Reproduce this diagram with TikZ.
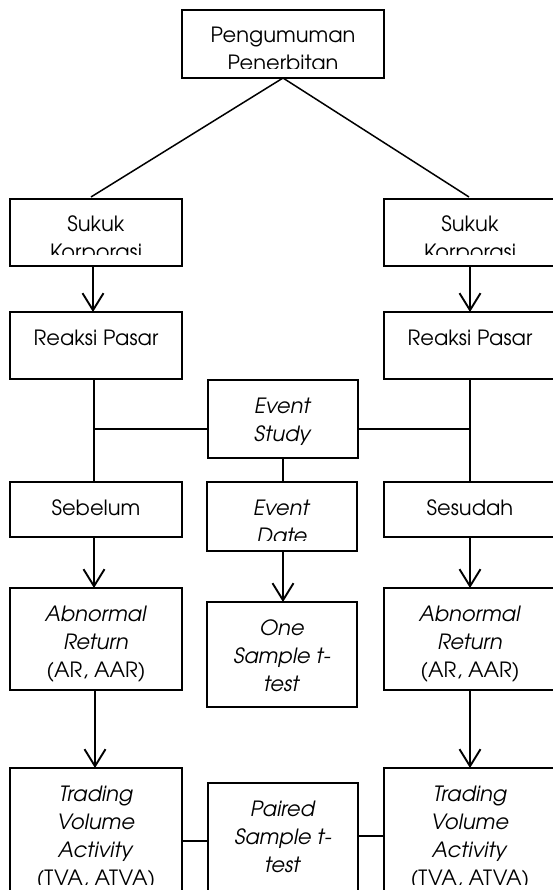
\documentclass[tikz,border=0pt]{standalone}
\usepackage{fontspec}
\setmainfont{TeX Gyre Adventor}
\usetikzlibrary{arrows.meta,calc}
\newcommand\mylines[2]{%
  \clip ([yshift=#1pt]path picture bounding box.south west) rectangle (path picture bounding box.north east);
  \foreach \t [count=\i] in {#2} {
    \node[anchor=base, inner sep=0pt] at ([yshift={-33pt-28pt*(\i-1)}]path picture bounding box.north) {\t};
  }%
}
\tikzset{
  box/.style={draw, line width=1.5pt, inner sep=0pt, outer sep=0pt, anchor=north west},
  wide/.style={box, minimum width=172pt},
  mid/.style={box, minimum width=150pt},
  conn/.style={line width=1.5pt},
  arr/.style={line width=1.9pt, -{Straight Barb[length=17pt,width=21pt,line width=1.9pt]}}
}
\begin{document}
\begin{tikzpicture}[x=1pt,y=-1pt,font=\fontsize{21pt}{28pt}\selectfont]
\clip (0,0) rectangle (553,890);
\fill[white] (0,0) rectangle (553,890);
% boxes
\node[box, minimum width=202pt, minimum height=68pt, path picture={\mylines{9.5}{Pengumuman,Penerbitan}}] (top) at (182,10) {};
\node[wide, minimum height=67pt, path picture={\mylines{11}{Sukuk,Korporasi}}] (sukL) at (10,199) {};
\node[wide, minimum height=67pt, path picture={\mylines{11}{Sukuk,Korporasi}}] (sukR) at (384,199) {};
\node[wide, minimum height=67pt, path picture={\mylines{0}{Reaksi Pasar}}] (reaL) at (10,312) {};
\node[wide, minimum height=67pt, path picture={\mylines{0}{Reaksi Pasar}}] (reaR) at (384,312) {};
\node[mid, minimum height=78pt, path picture={\mylines{0}{\textit{Event},\textit{Study}}}] (evS) at (208,380) {};
\node[wide, minimum height=55pt, path picture={\mylines{0}{Sebelum}}] (sebL) at (10,482) {};
\node[wide, minimum height=55pt, path picture={\mylines{0}{Sesudah}}] (sesR) at (384,482) {};
\node[mid, minimum height=69pt, path picture={\mylines{11}{\textit{Event},\textit{Date}}}] (evD) at (207,482) {};
\node[wide, minimum height=102pt, path picture={\mylines{0}{\textit{Abnormal},\textit{Return},{(AR, AAR)}}}] (abL) at (10,588) {};
\node[wide, minimum height=102pt, path picture={\mylines{0}{\textit{Abnormal},\textit{Return},{(AR, AAR)}}}] (abR) at (384,588) {};
\node[mid, minimum height=105pt, path picture={\mylines{0}{\textit{One},\textit{Sample t-},\textit{test}}}] (one) at (207,602) {};
\node[wide, minimum height=127pt, path picture={\mylines{11}{\textit{Trading},\textit{Volume},\textit{Activity},{(TVA, ATVA)}}}] (trL) at (10,768) {};
\node[wide, minimum height=127pt, path picture={\mylines{11}{\textit{Trading},\textit{Volume},\textit{Activity},{(TVA, ATVA)}}}] (trR) at (384,768) {};
\node[mid, minimum height=112pt, path picture={\mylines{0}{\textit{Paired},\textit{Sample t-},\textit{test}}}] (pair) at (208,783) {};
% connectors
\draw[conn] (top.south) -- ([xshift=-5pt,yshift=2pt]sukL.north);
\draw[conn] (top.south) -- ([xshift=-1pt,yshift=2pt]sukR.north);
\draw[arr] ([xshift=-3pt]sukL.south) -- ([xshift=-3pt]reaL.north);
\draw[arr] (sukR.south) -- (reaR.north);
\draw[conn] ([xshift=-2pt]reaL.south) -- ([xshift=-2pt]sebL.north);
\draw[conn] (reaR.south) -- (sesR.north);
\draw[conn] ([yshift=-10pt]evS.west) -- ([yshift=-10pt,xshift=-2pt]evS.west -| reaL.south);
\draw[conn] ([yshift=-10pt]evS.east) -- ([yshift=-10pt]evS.east -| reaR.south);
\draw[conn] (evS.south) -- (evD.north -| evS.south);
\draw[arr] ([xshift=-2pt]sebL.south) -- ([xshift=-2pt]abL.north);
\draw[arr] (sesR.south) -- (abR.north);
\draw[arr] ([xshift=1pt]evD.south) -- ([xshift=1pt]one.north);
\draw[arr] ([xshift=-1pt]abL.south) -- ([xshift=-1pt]trL.north);
\draw[arr] (abR.south) -- (trR.north);
\draw[conn] (trL.east |- 0,841) -- (pair.west |- 0,841);
\draw[conn] (pair.east |- 0,836) -- (trR.west |- 0,836);
\end{tikzpicture}
\end{document}
